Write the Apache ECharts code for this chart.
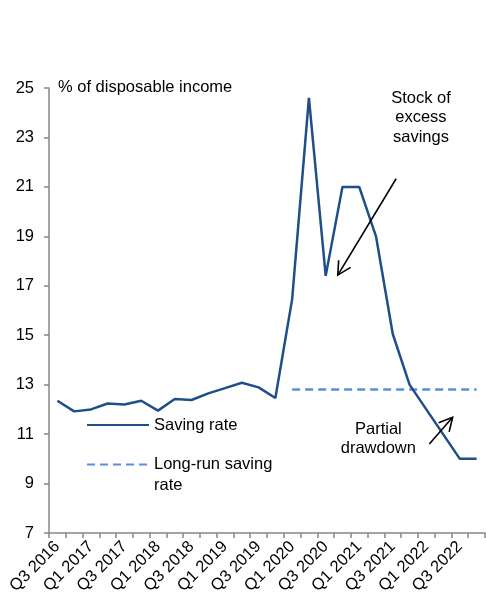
<!DOCTYPE html>
<html>
<head>
<meta charset="utf-8">
<style>
  html, body { margin: 0; padding: 0; background: #fff; }
  #chart { width: 486px; height: 596px; }
</style>
<script src="https://cdn.jsdelivr.net/npm/echarts@6/dist/echarts.min.js"></script>
</head>
<body>
<div id="chart"></div>
<script>
// Quarterly household saving rate, % of disposable income
const categories = [
  'Q3 2016', 'Q4 2016', 'Q1 2017', 'Q2 2017', 'Q3 2017', 'Q4 2017',
  'Q1 2018', 'Q2 2018', 'Q3 2018', 'Q4 2018', 'Q1 2019', 'Q2 2019',
  'Q3 2019', 'Q4 2019', 'Q1 2020', 'Q2 2020', 'Q3 2020', 'Q4 2020',
  'Q1 2021', 'Q2 2021', 'Q3 2021', 'Q4 2021', 'Q1 2022', 'Q2 2022',
  'Q3 2022', 'Q4 2022'
];
const savingRate = [
  12.35, 11.92, 12.0, 12.24, 12.2, 12.35,
  11.95, 12.42, 12.38, 12.65, 12.86, 13.08,
  12.89, 12.46, 16.46, 24.6, 17.4, 21.0,
  21.0, 19.0, 15.05, 13.0, 12.0, 11.0,
  10.0, 10.0
];
// Long-run rate shown from Q1 2020 onwards
const longRunValue = 12.8;
const longRunStart = 'Q1 2020';
const longRunRate = categories.map((c, i) =>
  i >= categories.indexOf(longRunStart) ? longRunValue : null);

const yTicks = { min: 7, max: 25, interval: 2 };

// Annotations, placed in data space: [category position, value]
const stockArrow = { from: [20.2, 21.33], to: [16.72, 17.43] };
const drawdownArrow = { from: [22.18, 10.6], to: [23.57, 11.68] };
const stockLabel = { at: [21.68, 23.79], text: 'Stock of\nexcess\nsavings' };
const drawdownLabel = { at: [19.14, 10.8], text: 'Partial\ndrawdown' };

const FONT = '"Liberation Sans", Arial, sans-serif';
const FS = 16.5;
const TEXT = '#000';
const AXIS = '#868686';
const DARK = '#1f4e89';
const LIGHT = '#5a90d8';

const chart = echarts.init(document.getElementById('chart'), null, { renderer: 'canvas' });

chart.setOption({
  animation: false,
  backgroundColor: '#fff',
  textStyle: { fontFamily: FONT, color: TEXT },
  grid: { left: 49, right: 1, top: 88, bottom: 63, containLabel: false, outerBoundsMode: 'none' },
  title: {
    text: '% of disposable income',
    left: 58, top: 79, padding: 0,
    textStyle: { fontFamily: FONT, fontSize: FS, fontWeight: 'normal', color: TEXT }
  },
  legend: [
    {
      data: [{ name: 'Saving rate' }],
      left: 86, top: 414, orient: 'vertical', padding: 0,
      itemWidth: 62, itemHeight: 14,
      itemStyle: { opacity: 0 },
      textStyle: { fontFamily: FONT, fontSize: FS, color: TEXT, lineHeight: 22 },
      selectedMode: false
    },
    {
      // a blank leading line keeps the icon level with the first text line
      data: [{ name: 'Long-run saving rate' }],
      left: 86, top: 433, orient: 'vertical', padding: 0,
      itemWidth: 62, itemHeight: 14,
      itemStyle: { opacity: 0 },
      formatter: () => '\nLong-run saving\nrate',
      textStyle: { fontFamily: FONT, fontSize: FS, color: TEXT, lineHeight: 21 },
      selectedMode: false
    }
  ],
  xAxis: {
    type: 'category',
    data: categories,
    boundaryGap: true,
    axisLine: { lineStyle: { color: AXIS, width: 1.5 } },
    axisTick: { show: true, interval: 0, length: 5, lineStyle: { color: AXIS, width: 1.5 } },
    axisLabel: {
      interval: 1, rotate: 45, margin: 11,
      fontFamily: FONT, fontSize: FS, color: TEXT
    },
    splitLine: { show: false }
  },
  yAxis: {
    type: 'value',
    min: yTicks.min, max: yTicks.max, interval: yTicks.interval,
    axisLine: { show: true, lineStyle: { color: AXIS, width: 1.5 } },
    axisTick: { show: true, length: 5, lineStyle: { color: AXIS, width: 1.5 } },
    axisLabel: { margin: 15, fontFamily: FONT, fontSize: FS, color: TEXT },
    splitLine: { show: false }
  },
  series: [
    {
      name: 'Saving rate',
      type: 'line',
      data: savingRate,
      symbol: 'none',
      lineStyle: { color: DARK, width: 2.5 },
      itemStyle: { color: DARK },
      z: 3
    },
    {
      name: 'Long-run saving rate',
      type: 'line',
      data: longRunRate,
      symbol: 'none',
      connectNulls: false,
      lineStyle: { color: LIGHT, width: 2.5, type: [8, 5] },
      itemStyle: { color: LIGHT },
      z: 2
    }
  ]
});

// Map a fractional category position and a value to pixels
function toPixel(pt) {
  const p0 = chart.convertToPixel({ xAxisIndex: 0, yAxisIndex: 0 }, [0, pt[1]]);
  const p1 = chart.convertToPixel({ xAxisIndex: 0, yAxisIndex: 0 }, [1, pt[1]]);
  return [p0[0] + (p1[0] - p0[0]) * pt[0], p0[1]];
}

function arrow(a) {
  const s = toPixel(a.from), e = toPixel(a.to);
  const ang = Math.atan2(e[1] - s[1], e[0] - s[0]);
  const head = 15, spread = Math.PI / 6.5;
  const h1 = [e[0] - head * Math.cos(ang - spread), e[1] - head * Math.sin(ang - spread)];
  const h2 = [e[0] - head * Math.cos(ang + spread), e[1] - head * Math.sin(ang + spread)];
  const st = { stroke: '#000', lineWidth: 1.6, fill: null };
  return [
    { type: 'polyline', shape: { points: [s, e] }, style: st, z: 10 },
    { type: 'polyline', shape: { points: [h1, e, h2] }, style: st, z: 10 }
  ];
}

function label(l) {
  const p = toPixel(l.at);
  return {
    type: 'text', x: p[0], y: p[1], z: 10,
    style: {
      text: l.text, fill: TEXT, font: FS + 'px ' + FONT,
      align: 'center', verticalAlign: 'middle', lineHeight: 19.5
    }
  };
}

chart.setOption({
  graphic: [].concat(
    arrow(stockArrow),
    arrow(drawdownArrow),
    [label(stockLabel), label(drawdownLabel)]
  )
});
</script>
</body>
</html>
